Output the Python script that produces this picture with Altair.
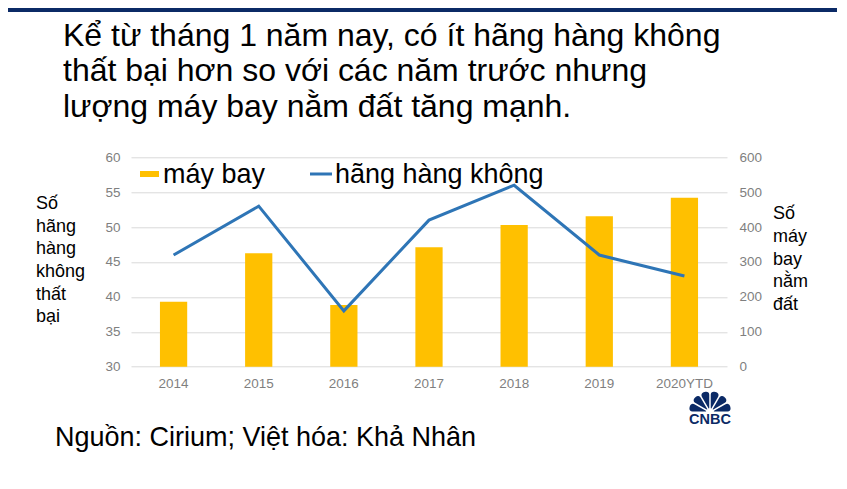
import math
import altair as alt
import pandas as pd

# ---------------- data ----------------
years = ["2014", "2015", "2016", "2017", "2018", "2019", "2020YTD"]
grounded_aircraft = [186, 325, 177, 342, 406, 431, 484]   # right axis (máy bay)
failed_airlines = [46, 53, 38, 51, 56, 46, 43]            # left axis (hãng hàng không)

left_ticks = [30, 35, 40, 45, 50, 55, 60]
right_ticks = [0, 100, 200, 300, 400, 500, 600]

title_lines = [
    "Kể từ tháng 1 năm nay, có ít hãng hàng không",
    "thất bại hơn so với các năm trước nhưng",
    "lượng máy bay nằm đất tăng mạnh.",
]
left_label_lines = ["Số", "hãng", "hàng", "không", "thất", "bại"]
right_label_lines = ["Số", "máy", "bay", "nằm", "đất"]
source_text = "Nguồn: Cirium; Việt hóa: Khả Nhân"
legend_bar_text = "máy bay"
legend_line_text = "hãng hàng không"
logo_text = "CNBC"

df = pd.DataFrame({"year": years, "grounded": grounded_aircraft, "failed": failed_airlines})
one = pd.DataFrame({"k": [0]})

# ---------------- style ----------------
FONT = "Liberation Sans"
W, H = 596, 209.4
PAD = {"left": 123, "top": 149.3, "right": 110, "bottom": 110}
BAR_COLOR = "#FFC000"
LINE_COLOR = "#2E75B6"
NAVY = "#0B2A66"
TICK_COLOR = "#7F7F7F"
TICK_SIZE = 13.5

x_enc = alt.X(
    "year:N", sort=years,
    scale=alt.Scale(paddingInner=0.68, paddingOuter=0.34),
    axis=alt.Axis(title=None, labelAngle=0, domain=False, ticks=False,
                  labelFont=FONT, labelFontSize=TICK_SIZE, labelColor=TICK_COLOR,
                  labelPadding=10),
)

bars = alt.Chart(df).mark_bar(color=BAR_COLOR).encode(
    x=x_enc,
    y=alt.Y("grounded:Q",
            scale=alt.Scale(domain=[0, 600], nice=False),
            axis=alt.Axis(orient="right", values=right_ticks, grid=False,
                          domain=False, ticks=False, title=None,
                          labelFont=FONT, labelFontSize=TICK_SIZE, labelColor=TICK_COLOR,
                          labelPadding=12)),
)

line = alt.Chart(df).mark_line(color=LINE_COLOR, strokeWidth=3).encode(
    x=x_enc,
    y=alt.Y("failed:Q",
            scale=alt.Scale(domain=[30, 60], nice=False, zero=False),
            axis=alt.Axis(orient="left", values=left_ticks, grid=True,
                          gridColor="#D9D9D9", gridWidth=1,
                          domain=False, ticks=False, title=None,
                          labelFont=FONT, labelFontSize=TICK_SIZE, labelColor=TICK_COLOR,
                          labelPadding=11)),
)


def txt(text, x, y, size, line_height=None, color="black", weight="normal", align="left"):
    kw = dict(text=text, font=FONT, fontSize=size, align=align,
              baseline="alphabetic", color=color, fontWeight=weight)
    if line_height is not None:
        kw["lineHeight"] = line_height
    return alt.Chart(one).mark_text(**kw).encode(x=alt.value(x), y=alt.value(y))


top_bar = alt.Chart(one).mark_rect(color=NAVY).encode(
    x=alt.value(-PAD["left"]), x2=alt.value(W + PAD["right"]),
    y=alt.value(-PAD["top"]), y2=alt.value(-PAD["top"] + 4),
)

title = txt(title_lines, -68, -111.3, 32, line_height=35.4)
left_label = txt(left_label_lines, -95, 52, 18, line_height=22.6)
right_label = txt(right_label_lines, 642, 62, 18, line_height=22.7)
source = txt(source_text, -76, 288.4, 27)

legend_rect = alt.Chart(one).mark_rect(color=BAR_COLOR).encode(
    x=alt.value(9), x2=alt.value(28), y=alt.value(13.7), y2=alt.value(19.7)
)
legend_rule = alt.Chart(one).mark_rule(color=LINE_COLOR, strokeWidth=3).encode(
    x=alt.value(179), x2=alt.value(201), y=alt.value(16.7)
)
legend_t1 = txt(legend_bar_text, 32, 26.2, 27)
legend_t2 = txt(legend_line_text, 204, 26.2, 27)

# CNBC peacock logo (decorative)
feathers = []
for i in range(6):
    a0 = (1.5 * math.pi + i * math.pi / 6) % (2 * math.pi)
    a1 = a0 + math.pi / 6
    feathers.append(
        alt.Chart(one).mark_arc(color=NAVY, theta=a0, theta2=a1, radius=21,
                                radius2=4, padAngle=0.07, cornerRadius=3).encode(
            x=alt.value(579), y=alt.value(255))
    )
logo_t = txt(logo_text, 579, 267, 14.5, color=NAVY, weight="bold", align="center")

chart = alt.layer(
    top_bar, bars, line, title, left_label, right_label, source,
    legend_rect, legend_rule, legend_t1, legend_t2, *feathers, logo_t,
).resolve_scale(y="independent").properties(
    width=W, height=H, padding=PAD, autosize="none", background="white",
).configure_view(stroke=None)

chart.save("out.html", embed_options={"renderer": "svg", "actions": False})
